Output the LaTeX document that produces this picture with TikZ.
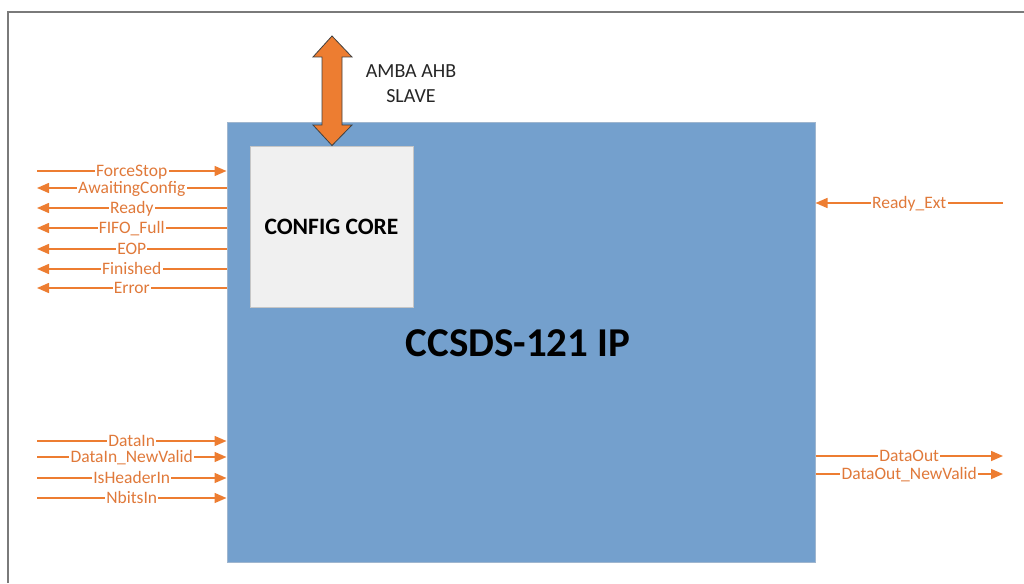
\documentclass[tikz,border=0pt]{standalone}
\usepackage{fontspec}
\setmainfont{Carlito}
\usetikzlibrary{arrows.meta}
\definecolor{ipblue}{HTML}{74A0CD}
\definecolor{ipedge}{HTML}{9FB6CF}
\definecolor{cfgfill}{HTML}{F0F0F0}
\definecolor{cfgedge}{HTML}{C6C6C6}
\definecolor{sigor}{HTML}{ED7D31}
\definecolor{lblor}{HTML}{E0793A}
\definecolor{framegray}{HTML}{7A7A7A}
\tikzset{
  sig/.style={draw=sigor, line width=1.5pt, -{Triangle[length=12pt,width=10pt]}},
  lbl/.style={fill=white, inner xsep=1.2pt, inner ysep=0pt, text height=0.68em, text depth=0.1em, anchor=base, yshift=-5.5pt, text=lblor, font=\fontsize{17.5}{19}\selectfont},
  ipbox/.style={draw=ipedge, line width=1pt, fill=ipblue, minimum width=588pt, minimum height=440pt, inner sep=0pt},
  cfgbox/.style={draw=cfgedge, line width=1pt, fill=cfgfill, minimum width=163pt, minimum height=161pt, inner sep=0pt, font=\bfseries\fontsize{23.5}{25}\selectfont},
}
\begin{document}
\begin{tikzpicture}[x=1pt,y=-1pt]
\useasboundingbox (0,0) rectangle (1024,583);
% frame
\draw[framegray, line width=2pt] (8,583) -- (8,12) -- (1024,12);
% main box
\node[ipbox] (ip) at (521,342) {};
\node[font=\bfseries\fontsize{41}{44}\selectfont] (iptxt) at (518,343) {CCSDS-121 IP};
\node[cfgbox] (cfg) at (331.5,226.5) {CONFIG CORE};
% AHB double arrow
\coordinate (ahbtop) at (332,36);
\draw[fill=sigor, draw=black!75, line width=0.8pt]
  (ahbtop) -- (352,57) -- (342,57) -- (342,125) -- (352,125) -- (cfg.north -| ahbtop)
  -- (313,125) -- (322,125) -- (322,57) -- (313,57) -- cycle;
\node[font=\fontsize{20}{25}\selectfont, align=center, text=black!85] (ahb) at (411,84) {AMBA AHB\\SLAVE};
% left signals
\foreach \nm/\yy in {fs/171,aw/188,rd/208,ff/228,eop/249,fin/269,err/288,din/441,dnv/457,ihi/478,nbi/498}
  \coordinate (\nm) at (37,\yy);
\draw[sig] (fs) -- (fs -| ip.west) node[midway,lbl] {ForceStop};
\draw[sig] (aw -| ip.west) -- (aw) node[midway,lbl] {AwaitingConfig};
\draw[sig] (rd -| ip.west) -- (rd) node[midway,lbl] {Ready};
\draw[sig] (ff -| ip.west) -- (ff) node[midway,lbl] {FIFO\_Full};
\draw[sig] (eop -| ip.west) -- (eop) node[midway,lbl] {EOP};
\draw[sig] (fin -| ip.west) -- (fin) node[midway,lbl] {Finished};
\draw[sig] (err -| ip.west) -- (err) node[midway,lbl] {Error};
\draw[sig] (din) -- (din -| ip.west) node[midway,lbl] {DataIn};
\draw[sig] (dnv) -- (dnv -| ip.west) node[midway,lbl] {DataIn\_NewValid};
\draw[sig] (ihi) -- (ihi -| ip.west) node[midway,lbl] {IsHeaderIn};
\draw[sig] (nbi) -- (nbi -| ip.west) node[midway,lbl] {NbitsIn};
% right signals
\coordinate (rext) at (1003,203);
\coordinate (dout) at (1003,456);
\coordinate (donv) at (1003,474);
\draw[sig] (rext) -- (rext -| ip.east) node[midway,lbl] {Ready\_Ext};
\draw[sig] (dout -| ip.east) -- (dout) node[midway,lbl] {DataOut};
\draw[sig] (donv -| ip.east) -- (donv) node[midway,lbl] {DataOut\_NewValid};
\end{tikzpicture}
\end{document}
